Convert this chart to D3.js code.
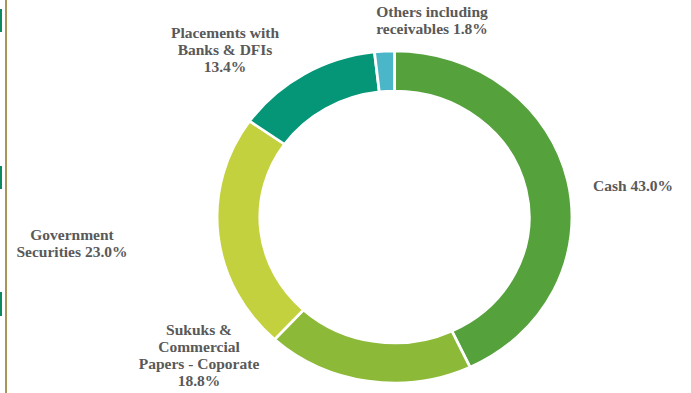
<!DOCTYPE html>
<html>
<head>
<meta charset="utf-8">
<script src="https://cdn.jsdelivr.net/npm/d3@7"></script>
<style>
  html, body { margin: 0; padding: 0; background: #fff; }
  svg { display: block; }
  .lbl { font-family: "Liberation Serif", "Times New Roman", serif; font-weight: bold; font-size: 15.5px; fill: #595959; }
</style>
</head>
<body>
<svg id="chart" width="691" height="393"></svg>
<script>
// Asset allocation shares (%)
const categories = [
  "Cash",
  "Sukuks & Commercial Papers - Coporate",
  "Government Securities",
  "Placements with Banks & DFIs",
  "Others including receivables"
];
const values = [43.0, 18.8, 23.0, 13.4, 1.8];
const colors = ["#55a13c", "#8cb938", "#c4d13e", "#059677", "#4bb6c7"];

// Label lines for each slice
const labelLines = [
  ["Cash 43.0%"],
  ["Sukuks &", "Commercial", "Papers - Coporate", "18.8%"],
  ["Government", "Securities 23.0%"],
  ["Placements with", "Banks & DFIs", "13.4%"],
  ["Others including", "receivables 1.8%"]
];
// Label anchor (centre of first baseline)
const labelPos = [
  [633, 191],
  [199, 335],
  [72, 240],
  [225, 38],
  [432, 17]
];

const svg = d3.select("#chart");

// Decorative left rule with green tabs
svg.append("rect").attr("x", 5).attr("y", 0).attr("width", 2).attr("height", 393).attr("fill", "#a8955a");
[[9, 23], [166, 23], [292, 24]].forEach(([y, h]) => {
  svg.append("rect").attr("x", 0).attr("y", y).attr("width", 2).attr("height", h).attr("fill", "#0b8a60");
});

const pie = d3.pie().sort(null).value(d => d)(values);
const arc = d3.arc().innerRadius(126).outerRadius(166);

const g = svg.append("g").attr("transform", "translate(394.5,217) scale(1.069,1)");
g.selectAll("path")
  .data(pie)
  .join("path")
  .attr("d", arc)
  .attr("fill", (d, i) => colors[i])
  .attr("stroke", "#fff")
  .attr("stroke-width", 2.6);

// Labels
labelLines.forEach((lines, i) => {
  const t = svg.append("text")
    .attr("class", "lbl")
    .attr("text-anchor", "middle")
    .attr("x", labelPos[i][0])
    .attr("y", labelPos[i][1]);
  lines.forEach((ln, j) => {
    t.append("tspan")
      .attr("x", labelPos[i][0])
      .attr("dy", j === 0 ? 0 : 17)
      .text(ln);
  });
});
</script>
</body>
</html>
